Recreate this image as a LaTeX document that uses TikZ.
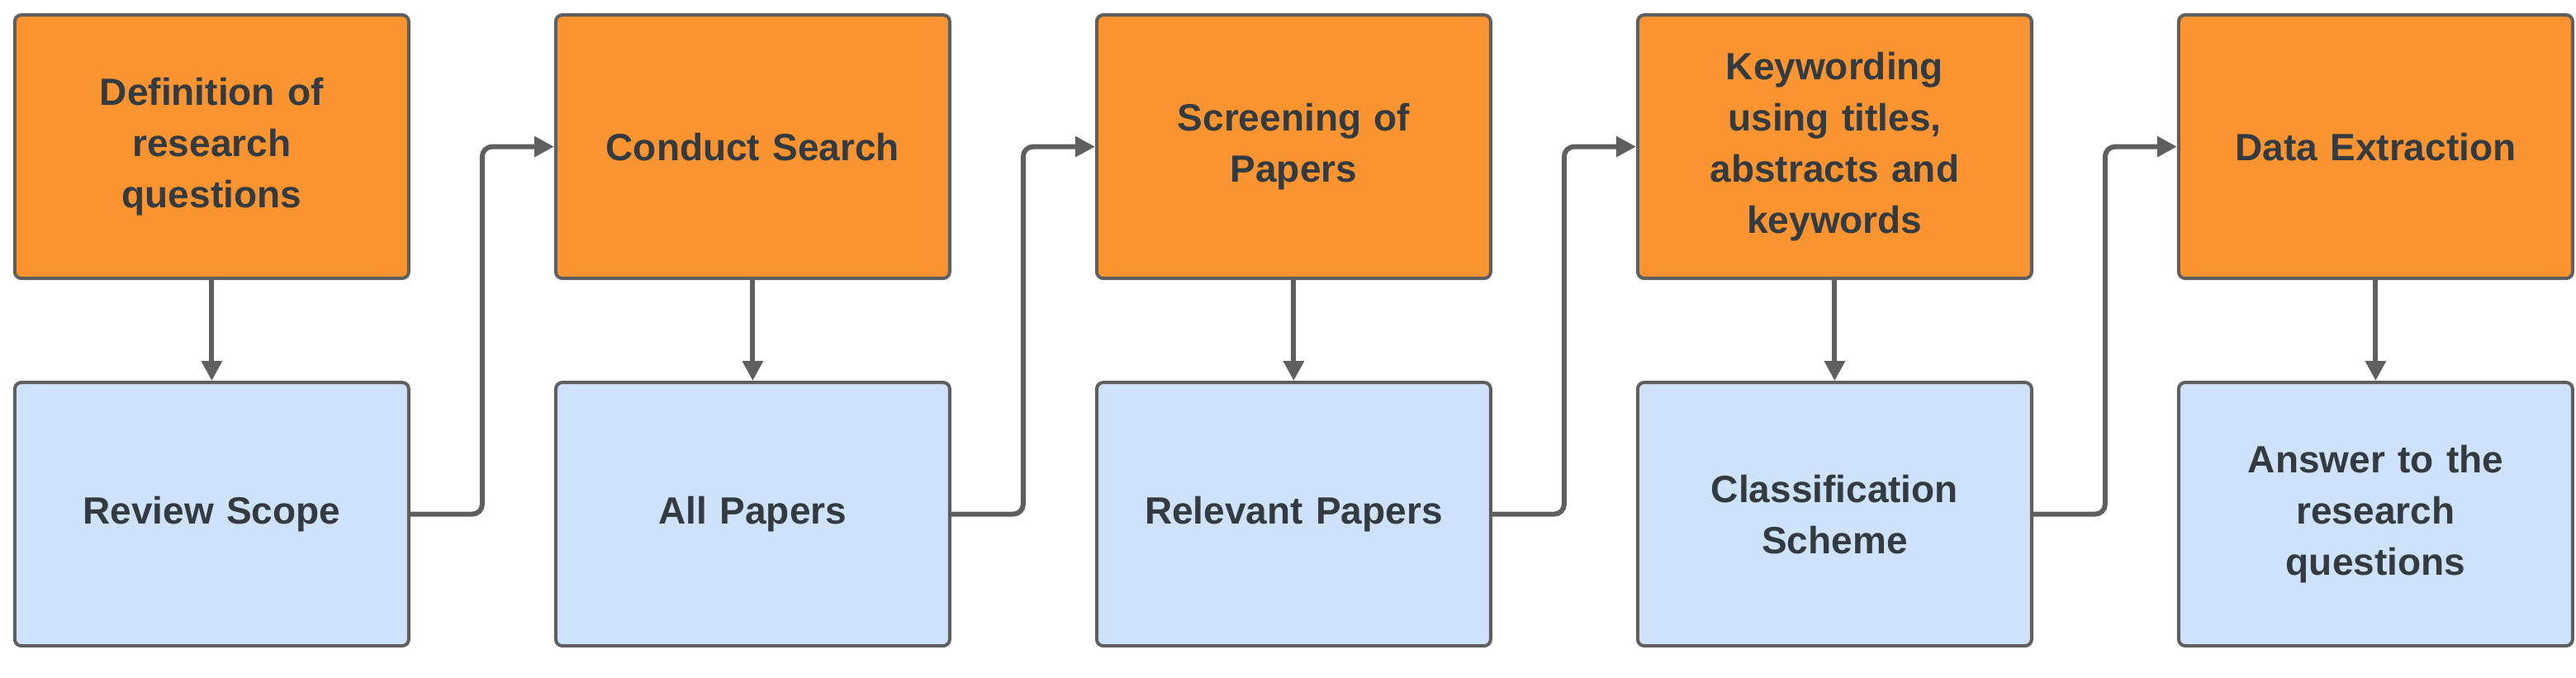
\documentclass[tikz,border=0pt]{standalone}
\usepackage{fontspec}
\setmainfont{Liberation Sans}
\usetikzlibrary{positioning,arrows.meta}
\definecolor{stepfill}{HTML}{F99431}
\definecolor{resultfill}{HTML}{CFE2FC}
\definecolor{edgegray}{HTML}{5F5F5F}
\definecolor{textgray}{HTML}{333A40}
\begin{document}
\begin{tikzpicture}[%
            box/.style={shape=rectangle, rounded corners=2pt, draw=edgegray, line width=1pt,
                minimum width=119.25pt, minimum height=79.75pt, align=center,
                text width=108pt, text=textgray,
                font=\fontsize{11.5}{15.5}\selectfont\bfseries},
            stepbox/.style={box, fill=stepfill},
            resultbox/.style={box, fill=resultfill},
            flow/.style={draw=edgegray, line width=1.5pt, rounded corners=3pt,
                -{Triangle[length=6pt,width=6pt]}},
            node distance=30.5pt and 43.5pt
    ]
    \useasboundingbox (0,0) rectangle (779.75pt,-205.25pt);

    \node [stepbox] (s1) at (64.1pt,-44.4pt) {Definition of\\research\\questions};
    \node [stepbox, right=of s1] (s2) {Conduct Search};
    \node [stepbox, right=of s2] (s3) {Screening of\\Papers};
    \node [stepbox, right=of s3] (s4) {Keywording\\using titles,\\abstracts and\\keywords};
    \node [stepbox, right=of s4] (s5) {Data Extraction};

    \node [resultbox, below=of s1] (r1) {Review Scope};
    \node [resultbox, below=of s2] (r2) {All Papers};
    \node [resultbox, below=of s3] (r3) {Relevant Papers};
    \node [resultbox, below=of s4] (r4) {Classification\\Scheme};
    \node [resultbox, below=of s5] (r5) {Answer to the\\research\\questions};

    \foreach \n in {1,...,5}
        \draw [flow] (s\n) -- (r\n);
    \foreach \n/\m in {1/2,2/3,3/4,4/5}
        \draw [flow] (r\n.east) -- ++(21.75pt,0) |- (s\m.west);
\end{tikzpicture}
\end{document}
